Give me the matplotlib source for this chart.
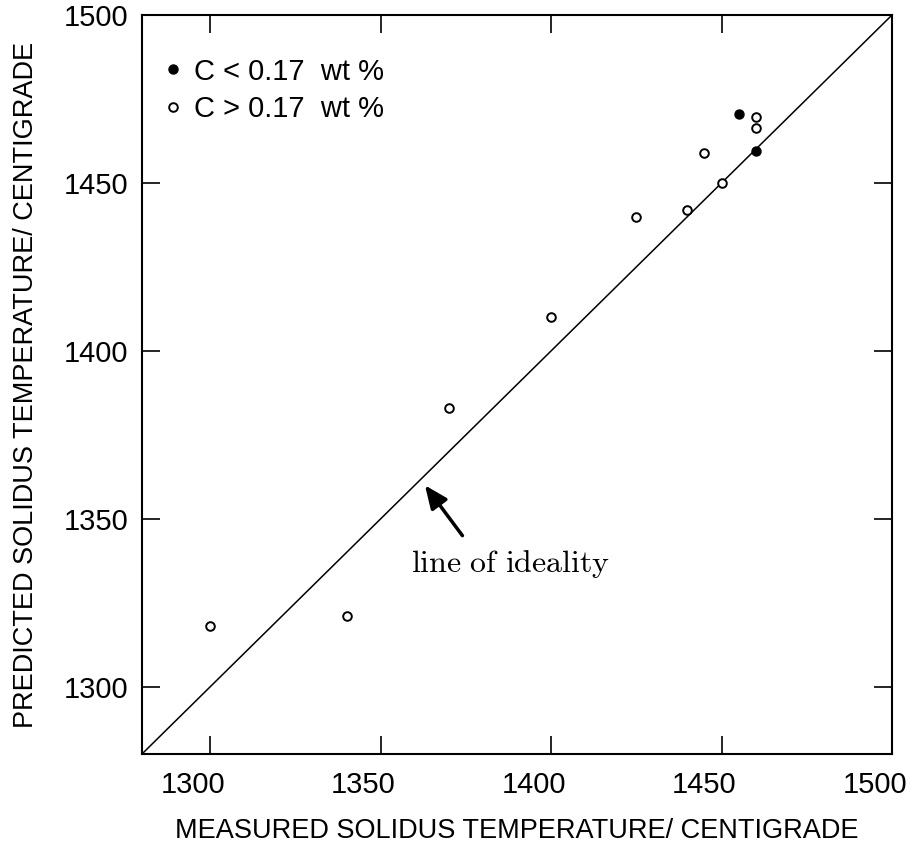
import matplotlib
matplotlib.use("Agg")
import matplotlib.pyplot as plt
from matplotlib.lines import Line2D
import matplotlib.transforms as mtransforms

# measured vs predicted solidus temperature (deg C)
measured_low_c = [1455, 1460]
predicted_low_c = [1470.5, 1459.5]
measured_high_c = [1300, 1340, 1370, 1400, 1425, 1440, 1445, 1450, 1460, 1460]
predicted_high_c = [1318, 1321, 1383, 1410, 1440, 1442, 1459, 1450, 1469.5, 1466.5]

ticks = [1300, 1350, 1400, 1450, 1500]
lims = [1280, 1500]

fig = plt.figure(figsize=(9.13, 8.49), dpi=100)
ax = fig.add_axes([0.1555, 0.1119, 0.8215, 0.8704])

# line of ideality
ax.plot(lims, lims, color="black", lw=1.1)

ax.plot(measured_low_c, predicted_low_c, "o", color="black", ms=6.5, zorder=3)
ax.plot(measured_high_c, predicted_high_c, "o", mfc="white", mec="black",
        mew=1.4, ms=6.2, zorder=3)

ax.set_xlim(lims)
ax.set_ylim(lims)
ax.set_xticks(ticks)
ax.set_yticks(ticks)
ax.tick_params(direction="in", length=13, width=1.2, top=True, right=True,
               labelsize=21)
ax.tick_params(axis="x", pad=12)
ax.tick_params(axis="y", pad=10)
for lab in ax.get_xticklabels() + ax.get_yticklabels():
    lab.set_fontfamily("Liberation Sans")
# x tick labels sit a little left of their ticks
shift = mtransforms.ScaledTranslation(-0.17, 0, fig.dpi_scale_trans)
for lab in ax.get_xticklabels():
    lab.set_transform(lab.get_transform() + shift)
for sp in ax.spines.values():
    sp.set_linewidth(1.5)

ax.set_xlabel("MEASURED SOLIDUS TEMPERATURE/ CENTIGRADE", fontsize=19.5,
              fontfamily="Liberation Sans")
ax.set_ylabel("PREDICTED SOLIDUS TEMPERATURE/ CENTIGRADE", fontsize=19.5,
              fontfamily="Liberation Sans")
ax.xaxis.set_label_coords(0.5, -0.087)
ax.yaxis.set_label_coords(-0.137, 0.5)

ax.annotate("", xy=(1363, 1360), xytext=(1374, 1345),
            arrowprops=dict(arrowstyle="-|>,head_length=1.4,head_width=0.6",
                            mutation_scale=10, color="black", lw=2.5,
                            shrinkA=0, shrinkB=0))
ax.text(1388, 1336.5, r"$\mathrm{line\ of\ ideality}$", fontsize=23,
        math_fontfamily="cm", ha="center", va="center")

handles = [Line2D([], [], ls="none", marker="o", color="black", ms=6.5),
           Line2D([], [], ls="none", marker="o", mfc="white", mec="black",
                  mew=1.4, ms=6.2)]
ax.legend(handles, ["C < 0.17  wt %", "C > 0.17  wt %"], loc="upper left",
          bbox_to_anchor=(-0.005, 0.978), frameon=False, handlelength=0.6,
          handletextpad=0.4, labelspacing=0.33,
          prop={"family": "Liberation Sans", "size": 21})

fig.savefig("out.png", dpi=100)
